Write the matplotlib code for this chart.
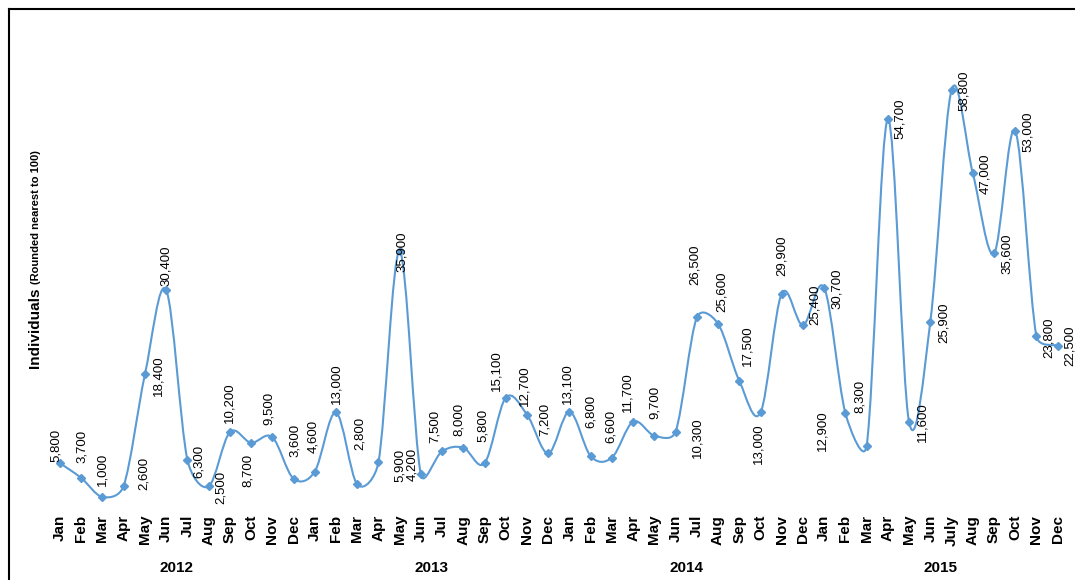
import numpy as np
import matplotlib
matplotlib.use('Agg')
import matplotlib.pyplot as plt
from matplotlib.path import Path
from matplotlib.patches import PathPatch
from matplotlib.lines import Line2D

plt.rcParams['font.family'] = ['Liberation Sans', 'DejaVu Sans']

# monthly values, rounded to nearest 100
years = ['2012', '2013', '2014', '2015']
months = ['Jan', 'Feb', 'Mar', 'Apr', 'May', 'Jun',
          'Jul', 'Aug', 'Sep', 'Oct', 'Nov', 'Dec']
months_2015 = ['Jan', 'Feb', 'Mar', 'Apr', 'May', 'Jun',
               'July', 'Aug', 'Sep', 'Oct', 'Nov', 'Dec']
v2012 = [5800, 3700, 1000, 2600, 18400, 30400, 6300, 2500, 10200, 8700, 9500, 3600]
v2013 = [4600, 13000, 2800, 5900, 35900, 4200, 7500, 8000, 5800, 15100, 12700, 7200]
v2014 = [13100, 6800, 6600, 11700, 9700, 10300, 26500, 25600, 17500, 13000, 29900, 25400]
v2015 = [30700, 12900, 8300, 54700, 11600, 25900, 58800, 47000, 35600, 53000, 23800, 22500]

values = np.array(v2012 + v2013 + v2014 + v2015, dtype=float)
tick_labels = months * 3 + months_2015
x = np.arange(len(values))

# label offsets from the marker, in pixels (dx right, dy down)
label_off = [(-4, -18), (1, -32), (0, -28), (20, -12), (14, 1), (0, -24),
             (12, 2), (12, 1), (0, -30), (-3, 28), (-3, -29), (1, -38),
             (-2, -35), (0, -29), (3, -51), (21, 3), (2, 0), (-9, -10),
             (-7, -25), (-4, -28), (-2, -38), (-9, -27), (-3, -29), (-3, -34),
             (-2, -28), (0, -45), (-1, -31), (-6, -30), (1, -33), (22, 6),
             (-2, -53), (4, -32), (8, -35), (-2, 31), (0, -38), (12, -20),
             (13, 1), (-23, 17), (-7, -49), (12, 0), (13, 0), (13, 1),
             (12, 1), (12, 1), (13, 0), (13, 1), (12, 1), (12, 0)]

color = '#5B9BD5'
W, H = 1075, 580

fig = plt.figure(figsize=(W / 100, H / 100), dpi=100)
ax = fig.add_axes([40 / W, 1 - 510 / H, (1075 - 40) / W, 450 / H])
ax.set_xlim(-(60 - 40) / 21.23, 47 + (1075 - 1057.7) / 21.23)
ax.set_ylim(-850, 63070)


def smooth_path(xs, ys):
    # excel-like smoothed line: bezier segments, tangents limited to half a segment
    disp = ax.transData.transform(np.column_stack([xs, ys]))
    ext = np.vstack([disp[0], disp, disp[-1]])
    verts = [disp[0]]
    codes = [Path.MOVETO]
    for i in range(len(disp) - 1):
        p0, p1, p2, p3 = ext[i], ext[i + 1], ext[i + 2], ext[i + 3]
        d02 = np.hypot(*(p2 - p0))
        d12 = np.hypot(*(p2 - p1))
        d13 = np.hypot(*(p3 - p1))
        f0 = 1 / 6 if d02 / 6 < d12 / 2 else d12 / d02 / 2
        f1 = 1 / 6 if d13 / 6 < d12 / 2 else d12 / d13 / 2
        verts += [p1 + (p2 - p0) * f0, p2 - (p3 - p1) * f1, p2]
        codes += [Path.CURVE4] * 3
    verts = ax.transData.inverted().transform(np.array(verts))
    return Path(verts, codes)


ax.add_patch(PathPatch(smooth_path(x, values), facecolor='none', edgecolor=color,
                       lw=1.5, zorder=2))
ax.plot(x, values, linestyle='none', marker='D', markersize=4, color=color, zorder=3)

for i, v in enumerate(values):
    dx, dy = label_off[i]
    ax.annotate(f'{int(v):,}', (x[i], v), xytext=(dx, -dy), textcoords='offset pixels',
                rotation=90, ha='center', va='center', fontsize=9.5, color='black')

ax.set_xticks(x)
ax.set_xticklabels(tick_labels, rotation=90, fontweight='bold', fontsize=11, va='top')
ax.tick_params(axis='x', length=0, pad=3.5)
ax.set_yticks([])
for s in ax.spines.values():
    s.set_visible(False)

for k, yr in enumerate(years):
    ax.annotate(yr, (k * 12 + 5.5, 1 - 568 / H), xycoords=('data', 'figure fraction'),
                ha='center', va='center', fontsize=11, fontweight='bold',
                family=['Liberation Sans Narrow', 'Liberation Sans'])

# y axis title in two sizes
fig.text(39 / W, 1 - 368 / H, 'Individuals', rotation=90, rotation_mode='anchor',
         ha='left', va='baseline', fontsize=11, fontweight='bold')
fig.text(39 / W, 1 - 284 / H, '(Rounded nearest to 100)', rotation=90, rotation_mode='anchor',
         ha='left', va='baseline', fontsize=8, fontweight='bold')

# outer frame (top and left edges visible)
fig.add_artist(Line2D([9 / W, 1], [1 - 9 / H, 1 - 9 / H], color='black', lw=1.5))
fig.add_artist(Line2D([9 / W, 9 / W], [0, 1 - 9 / H], color='black', lw=1.5))

fig.savefig('out.png', dpi=100)
